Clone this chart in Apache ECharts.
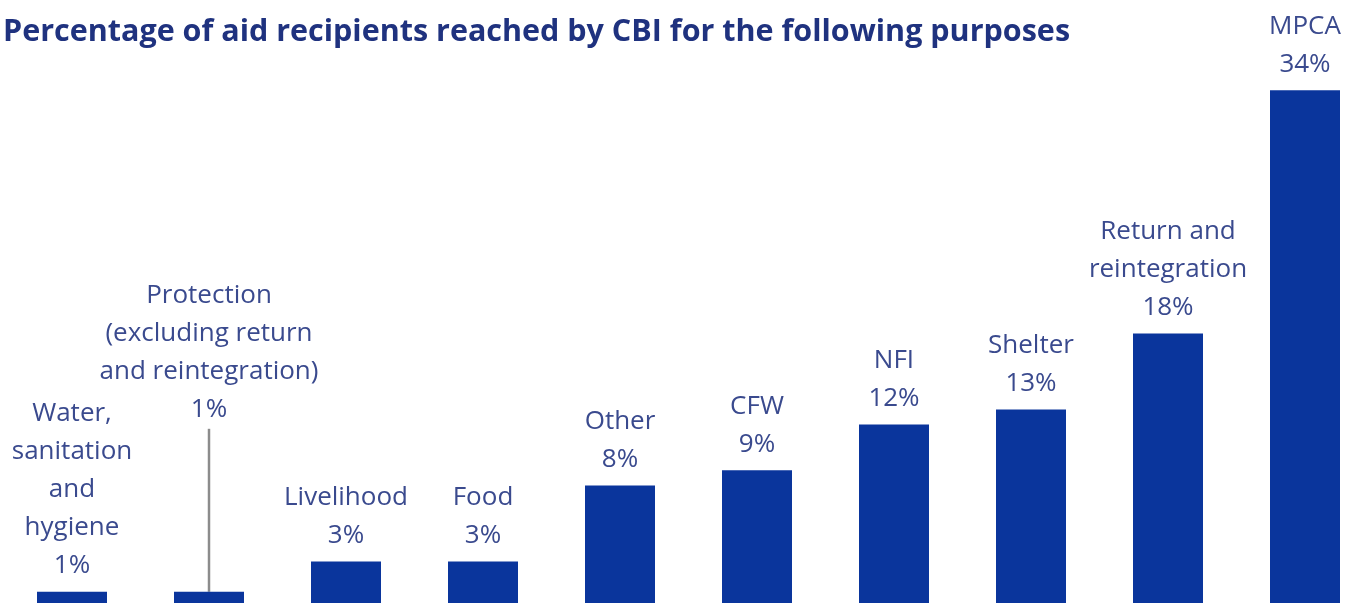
<!DOCTYPE html>
<html>
<head>
<meta charset="utf-8">
<script src="https://cdn.jsdelivr.net/npm/echarts@6/dist/echarts.min.js"></script>
<style>
  html, body { margin: 0; padding: 0; background: #ffffff; }
  #chart { width: 1360px; height: 603px; }
</style>
</head>
<body>
<div id="chart"></div>
<script>
// Purposes of cash-based interventions and the share of recipients reached
const categories = [
  'Water,\nsanitation\nand\nhygiene',
  'Protection\n(excluding return\nand reintegration)',
  'Livelihood',
  'Food',
  'Other',
  'CFW',
  'NFI',
  'Shelter',
  'Return and\nreintegration',
  'MPCA'
];
const shares = [1, 1, 3, 3, 8, 9, 12, 13, 18, 34];
const titleText = 'Percentage of aid recipients reached by CBI for the following purposes';

// Index of the bar whose label is lifted above and tied back with a guide line
const liftedIndex = 1;

const barColor = '#0a359c';
const textColor = '#3a4a8e';
const fontFamily = '"Open Sans", Lato, sans-serif';

const seriesData = shares.map(function (v, i) {
  if (i === liftedIndex) {
    return {
      value: v,
      labelLine: { show: true, lineStyle: { color: '#8c8c8c', width: 2.5 } }
    };
  }
  return v;
});

const chart = echarts.init(document.getElementById('chart'), null, { renderer: 'canvas' });
chart.setOption({
  backgroundColor: '#ffffff',
  animation: false,
  title: {
    text: titleText,
    left: -2,
    top: 12,
    textStyle: {
      fontFamily: fontFamily,
      fontSize: 30.5,
      fontWeight: 'bold',
      color: '#1f327f'
    }
  },
  grid: { left: 3.5, width: 1370, top: -1, height: 608, outerBoundsMode: 'none' },
  xAxis: {
    type: 'category',
    data: categories,
    show: false
  },
  yAxis: {
    type: 'value',
    min: 0,
    max: 40,
    show: false
  },
  series: [{
    type: 'bar',
    data: seriesData,
    barWidth: 70,
    itemStyle: { color: barColor },
    label: {
      show: true,
      position: 'top',
      distance: 7,
      fontFamily: fontFamily,
      fontSize: 26,
      lineHeight: 38,
      color: textColor,
      align: 'center',
      formatter: function (p) {
        return p.name + '\n' + p.value + '%';
      }
    },
    labelLayout: function (params) {
      if (params.dataIndex === liftedIndex) {
        return { dy: -156 };
      }
      return {};
    }
  }]
});
</script>
</body>
</html>
